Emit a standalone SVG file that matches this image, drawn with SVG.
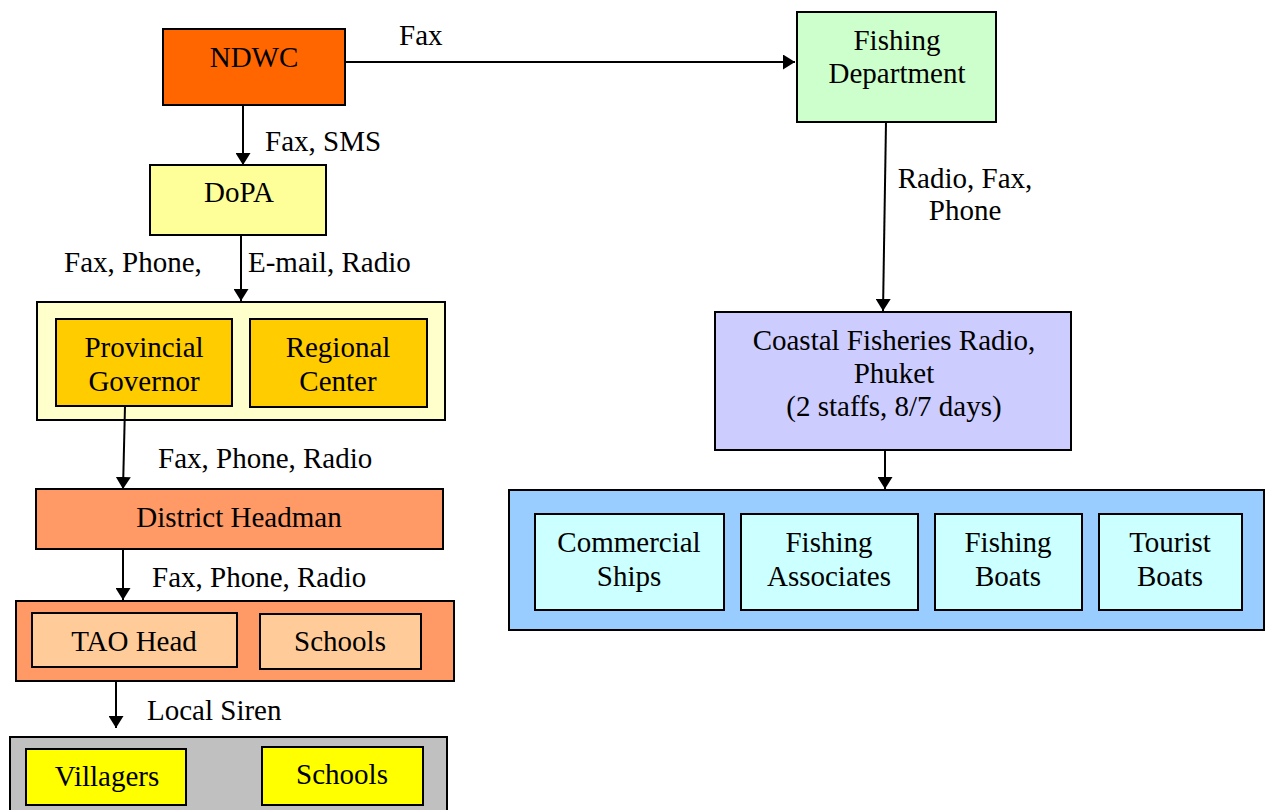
<svg xmlns="http://www.w3.org/2000/svg" width="1267" height="810" viewBox="0 0 1267 810">
<style>
  text { font-family: "Liberation Serif", "Times New Roman", serif; font-size: 29px; fill: #000; }
  .c { text-anchor: middle; }
  .box { stroke: #000; stroke-width: 2; }
  .conn line { stroke: #000; stroke-width: 2; marker-end: url(#arr); }
</style>
<defs>
  <marker id="arr" viewBox="0 0 12 15" refX="12" refY="7.5" markerWidth="12" markerHeight="15" markerUnits="userSpaceOnUse" orient="auto">
    <path d="M0,0 L12,7.5 L0,15 z" fill="#000"/>
  </marker>
</defs>
<rect width="1267" height="810" fill="#fff"/>

<g id="ndwc">
  <rect class="box" x="163" y="29" width="182" height="76" fill="#FF6600"/>
  <text class="c" x="254" y="67">NDWC</text>
</g>
<g id="dopa">
  <rect class="box" x="150" y="165" width="176" height="70" fill="#FFFF99"/>
  <text class="c" x="239" y="202">DoPA</text>
</g>
<g id="province-group">
  <rect class="box" x="37" y="302" width="408" height="118" fill="#FFFFCC"/>
  <g id="provincial-governor">
    <rect class="box" x="56" y="319" width="176" height="87" fill="#FFCC00"/>
    <text class="c" x="144" y="357">Provincial</text>
    <text class="c" x="144" y="391">Governor</text>
  </g>
  <g id="regional-center">
    <rect class="box" x="250" y="319" width="177" height="88" fill="#FFCC00"/>
    <text class="c" x="338" y="357">Regional</text>
    <text class="c" x="338" y="391">Center</text>
  </g>
</g>
<g id="district-headman">
  <rect class="box" x="36" y="489" width="407" height="60" fill="#FF9966"/>
  <text class="c" x="239" y="527">District Headman</text>
</g>
<g id="tao-group">
  <rect class="box" x="16" y="601" width="438" height="80" fill="#FF9966"/>
  <g id="tao-head">
    <rect class="box" x="32" y="613" width="205" height="54" fill="#FFCC99"/>
    <text class="c" x="134" y="651">TAO Head</text>
  </g>
  <g id="tao-schools">
    <rect class="box" x="260" y="614" width="161" height="55" fill="#FFCC99"/>
    <text class="c" x="340" y="651">Schools</text>
  </g>
</g>
<g id="village-group">
  <rect class="box" x="10" y="737" width="437" height="90" fill="#C0C0C0"/>
  <g id="villagers">
    <rect class="box" x="26" y="749" width="160" height="56" fill="#FFFF00"/>
    <text class="c" x="107" y="786">Villagers</text>
  </g>
  <g id="village-schools">
    <rect class="box" x="262" y="747" width="161" height="58" fill="#FFFF00"/>
    <text class="c" x="342" y="784">Schools</text>
  </g>
</g>
<g id="fishing-department">
  <rect class="box" x="797" y="12" width="199" height="110" fill="#CCFFCC"/>
  <text class="c" x="897" y="50">Fishing</text>
  <text class="c" x="897" y="83">Department</text>
</g>
<g id="coastal-radio">
  <rect class="box" x="715" y="312" width="356" height="138" fill="#CCCCFF"/>
  <text class="c" x="894" y="350">Coastal Fisheries Radio,</text>
  <text class="c" x="894" y="383">Phuket</text>
  <text class="c" x="894" y="416">(2 staffs, 8/7 days)</text>
</g>
<g id="vessel-group">
  <rect class="box" x="509" y="490" width="755" height="140" fill="#99CCFF"/>
  <g id="commercial-ships">
    <rect class="box" x="535" y="514" width="189" height="96" fill="#CCFFFF"/>
    <text class="c" x="629" y="552">Commercial</text>
    <text class="c" x="629" y="586">Ships</text>
  </g>
  <g id="fishing-associates">
    <rect class="box" x="741" y="514" width="177" height="96" fill="#CCFFFF"/>
    <text class="c" x="829" y="552">Fishing</text>
    <text class="c" x="829" y="586">Associates</text>
  </g>
  <g id="fishing-boats">
    <rect class="box" x="935" y="514" width="147" height="96" fill="#CCFFFF"/>
    <text class="c" x="1008" y="552">Fishing</text>
    <text class="c" x="1008" y="586">Boats</text>
  </g>
  <g id="tourist-boats">
    <rect class="box" x="1099" y="514" width="143" height="96" fill="#CCFFFF"/>
    <text class="c" x="1170" y="552">Tourist</text>
    <text class="c" x="1170" y="586">Boats</text>
  </g>
</g>

<g id="connectors" class="conn">
  <line x1="345" y1="62" x2="795" y2="62"/>
  <line x1="243" y1="105" x2="243" y2="165"/>
  <line x1="241" y1="235" x2="241" y2="301"/>
  <line x1="125" y1="406" x2="123" y2="489"/>
  <line x1="123" y1="549" x2="123" y2="600"/>
  <line x1="116" y1="681" x2="116" y2="728"/>
  <line x1="886" y1="122" x2="883" y2="311"/>
  <line x1="885" y1="450" x2="885" y2="489"/>
</g>
<g id="connector-labels">
  <text x="399" y="45">Fax</text>
  <text x="265" y="151">Fax, SMS</text>
  <text x="64" y="272">Fax, Phone,</text>
  <text x="248" y="272">E-mail, Radio</text>
  <text x="158" y="468">Fax, Phone, Radio</text>
  <text x="152" y="587">Fax, Phone, Radio</text>
  <text x="147" y="720">Local Siren</text>
  <text class="c" x="965" y="188">Radio, Fax,</text>
  <text class="c" x="965" y="220">Phone</text>
</g>
</svg>
